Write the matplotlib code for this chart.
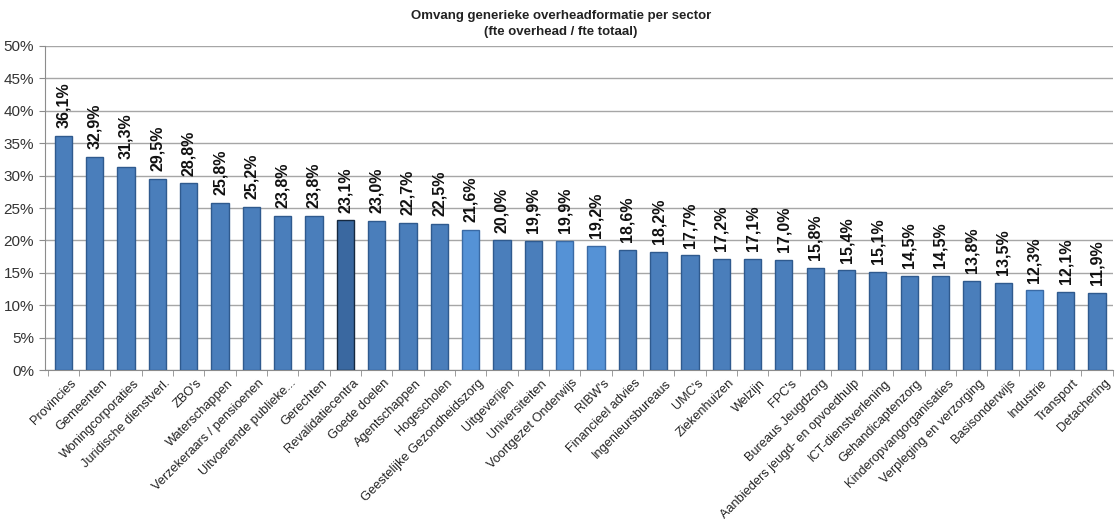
import numpy as np
import matplotlib
matplotlib.use('Agg')
import matplotlib.pyplot as plt
import matplotlib.transforms as mtransforms
from matplotlib.ticker import MultipleLocator, FuncFormatter

# =============================================================================
# Data
# =============================================================================

sectors = ['Provincies', 'Gemeenten', 'Woningcorporaties', 'Juridische dienstverl.',
           "ZBO's", 'Waterschappen', 'Verzekeraars / pensioenen',
           'Uitvoerende publieke...', 'Gerechten', 'Revalidatiecentra',
           'Goede doelen', 'Agentschappen', 'Hogescholen',
           'Geestelijke Gezondheidszorg', 'Uitgeverijen', 'Universiteiten',
           'Voortgezet Onderwijs', "RIBW's", 'Financieel advies',
           'Ingenieursbureaus', "UMC's", 'Ziekenhuizen', 'Welzijn', "FPC's",
           'Bureaus Jeugdzorg', 'Aanbieders jeugd- en opvoedhulp',
           'ICT-dienstverlening', 'Gehandicaptenzorg',
           'Kinderopvangorganisaties', 'Verpleging en verzorging',
           'Basisonderwijs', 'Industrie', 'Transport', 'Detachering']

overhead = [36.1, 32.9, 31.3, 29.5, 28.8, 25.8, 25.2, 23.8, 23.8, 23.1,
            23.0, 22.7, 22.5, 21.6, 20.0, 19.9, 19.9, 19.2, 18.6, 18.2,
            17.7, 17.2, 17.1, 17.0, 15.8, 15.4, 15.1, 14.5, 14.5, 13.8,
            13.5, 12.3, 12.1, 11.9]

# highlighted bars (lighter / darker shade in the original)
light_bars = ['Geestelijke Gezondheidszorg', 'Voortgezet Onderwijs', "RIBW's", 'Industrie']
dark_bars = ['Revalidatiecentra']

# =============================================================================
# Plot
# =============================================================================

plt.rcParams['font.family'] = ['Liberation Sans', 'DejaVu Sans']

fig = plt.figure(figsize=(11.15, 5.2), dpi=100)
ax = fig.add_axes([0.040, 0.288, 0.958, 0.624])

colors = []
edges = []
for s in sectors:
    if s in light_bars:
        colors.append('#5592d6')
        edges.append('#3a6aa5')
    elif s in dark_bars:
        colors.append('#3a68a0')
        edges.append('#15283f')
    else:
        colors.append('#4a7ebb')
        edges.append('#2f5a8e')

x = np.arange(len(sectors))
ax.bar(x, overhead, width=0.55, color=colors, edgecolor=edges,
       linewidth=1.0, zorder=3)

for xi, v in zip(x, overhead):
    ax.text(xi, v + 1.2, f'{v:.1f}%'.replace('.', ','), rotation=90,
            ha='center', va='bottom', fontsize=11.5, fontweight='bold',
            color='#111111', zorder=4)

ax.set_xlim(-0.6, len(sectors) - 0.6)
ax.set_ylim(0, 50)
ax.yaxis.set_major_locator(MultipleLocator(5))
ax.yaxis.set_major_formatter(FuncFormatter(lambda v, p: f'{v:.0f}%'))
ax.grid(axis='y', color='#a6a6a6', linewidth=1, zorder=0)

ax.set_xticks(x)
ax.set_xticklabels(sectors, rotation=45, ha='right', rotation_mode='anchor',
                   fontsize=9.2, color='#222222')
ax.tick_params(axis='x', length=0, pad=5)
# nudge the slanted labels a little to the right
offset = mtransforms.ScaledTranslation(5 / 72, 0, fig.dpi_scale_trans)
for lbl in ax.get_xticklabels():
    lbl.set_transform(lbl.get_transform() + offset)
ax.set_xticks(np.arange(len(sectors) + 1) - 0.5, minor=True)
ax.tick_params(axis='x', which='minor', length=4, color='#8c8c8c')
ax.tick_params(axis='y', labelsize=11, length=4, color='#8c8c8c',
               labelcolor='#333333')

for side in ['top', 'right']:
    ax.spines[side].set_visible(False)
ax.spines['left'].set_color('#8c8c8c')
ax.spines['bottom'].set_color('#8c8c8c')

fig.text(0.503, 0.98, 'Omvang generieke overheadformatie per sector\n(fte overhead / fte totaal)',
         ha='center', va='top', fontsize=9.5, fontweight='bold', color='#222222',
         linespacing=1.45)

plt.savefig('out.png', dpi=100)
